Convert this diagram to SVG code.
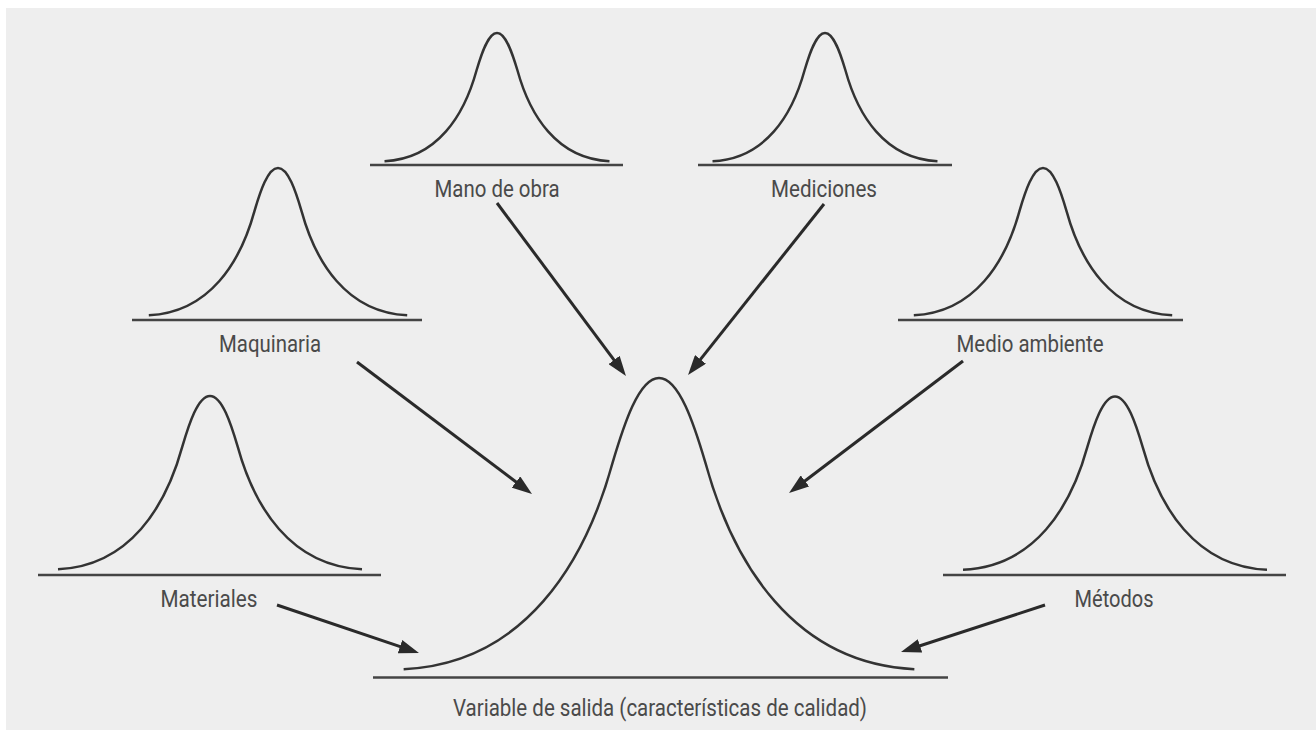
<svg xmlns="http://www.w3.org/2000/svg" xmlns:xlink="http://www.w3.org/1999/xlink" width="1316" height="730" viewBox="0 0 1316 730">
  <style>
    .curve { fill: none; stroke: #333333; stroke-width: 2.5; vector-effect: non-scaling-stroke; }
    .base { stroke: #444444; stroke-width: 2.6; }
    .label { font-family: Roboto, "Liberation Sans", sans-serif; font-size: 23px; fill: #4a4a4a; text-anchor: middle; }
    .arrow { stroke: #2a2a2a; stroke-width: 3; fill: none; marker-end: url(#ah); }
  </style>
  <defs>
    <path id="bell" class="curve" d="M -152,173.3 C -80,170 -44,110 -27.7,50.7 C -21,28 -12,0 0,0 C 12,0 21,28 27.7,50.7 C 44,110 80,170 152,173.3"/>
    <marker id="ah" viewBox="0 0 20 14" refX="8" refY="7" markerWidth="20" markerHeight="14" markerUnits="userSpaceOnUse" orient="auto">
      <path d="M0,0 L20,7 L0,14 Z" fill="#2a2a2a"/>
    </marker>
  </defs>
  <rect x="0" y="0" width="1316" height="730" fill="#ffffff"/>
  <rect x="6" y="8" width="1310" height="722" fill="#eeeeee"/>

  <g id="mano-de-obra">
    <use xlink:href="#bell" href="#bell" transform="translate(497,33) scale(0.74)"/>
    <line class="base" x1="370" y1="165" x2="623" y2="165"/>
    <text class="label" x="497" y="197" textLength="125" lengthAdjust="spacingAndGlyphs">Mano de obra</text>
  </g>
  <g id="mediciones">
    <use xlink:href="#bell" href="#bell" transform="translate(825,33) scale(0.74)"/>
    <line class="base" x1="698" y1="165" x2="952" y2="165"/>
    <text class="label" x="824" y="197" textLength="106" lengthAdjust="spacingAndGlyphs">Mediciones</text>
  </g>
  <g id="maquinaria">
    <use xlink:href="#bell" href="#bell" transform="translate(278,168) scale(0.85)"/>
    <line class="base" x1="132" y1="320" x2="422" y2="320"/>
    <text class="label" x="270" y="352" textLength="102" lengthAdjust="spacingAndGlyphs">Maquinaria</text>
  </g>
  <g id="medio-ambiente">
    <use xlink:href="#bell" href="#bell" transform="translate(1043,168) scale(0.85)"/>
    <line class="base" x1="898" y1="320" x2="1183" y2="320"/>
    <text class="label" x="1030" y="352" textLength="147" lengthAdjust="spacingAndGlyphs">Medio ambiente</text>
  </g>
  <g id="materiales">
    <use xlink:href="#bell" href="#bell" transform="translate(210,396)"/>
    <line class="base" x1="38" y1="575" x2="381" y2="575"/>
    <text class="label" x="209" y="607" textLength="97" lengthAdjust="spacingAndGlyphs">Materiales</text>
  </g>
  <g id="metodos">
    <use xlink:href="#bell" href="#bell" transform="translate(1115,396.5)"/>
    <line class="base" x1="943" y1="575" x2="1286" y2="575"/>
    <text class="label" x="1114" y="607" textLength="79" lengthAdjust="spacingAndGlyphs">Métodos</text>
  </g>
  <g id="variable-de-salida">
    <use xlink:href="#bell" href="#bell" transform="translate(659,378) scale(1.68)"/>
    <line class="base" x1="373" y1="677.5" x2="948" y2="677.5"/>
    <text class="label" x="660" y="716" textLength="414" lengthAdjust="spacingAndGlyphs">Variable de salida (características de calidad)</text>
  </g>

  <g id="connectors">
    <line class="arrow" x1="497" y1="203" x2="618.8" y2="366.4"/>
    <line class="arrow" x1="824" y1="204" x2="695.5" y2="365.6"/>
    <line class="arrow" x1="357" y1="362" x2="522.4" y2="486.8"/>
    <line class="arrow" x1="963" y1="361" x2="798.6" y2="485.8"/>
    <line class="arrow" x1="277" y1="605" x2="407.6" y2="649.2"/>
    <line class="arrow" x1="1045" y1="605" x2="912.4" y2="648.3"/>
  </g>
</svg>
